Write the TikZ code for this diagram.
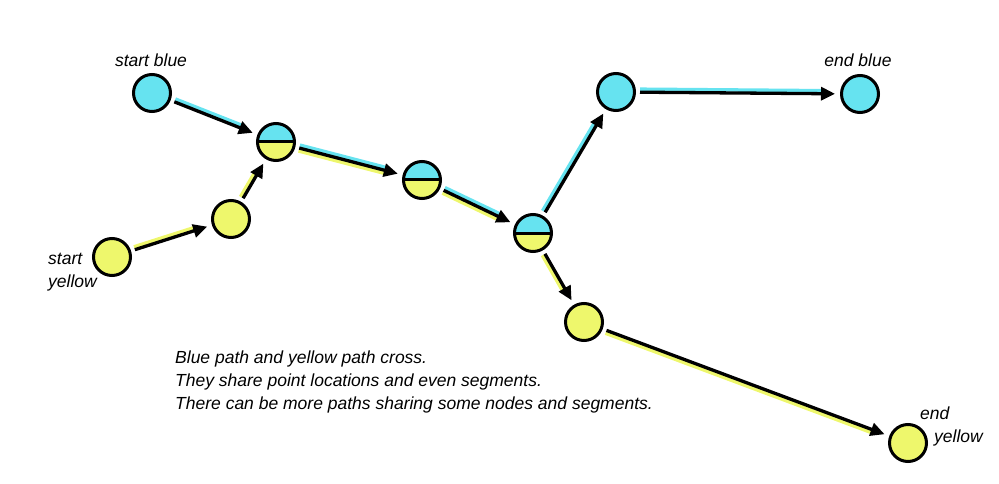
\documentclass[tikz,border=0pt]{standalone}
\usepackage{fontspec}
\setmainfont{Liberation Sans}
\usetikzlibrary{calc,arrows.meta}
\definecolor{cblue}{RGB}{102,227,240}
\definecolor{cyellow}{RGB}{238,247,108}
\newcommand\colline[5]{%
  \draw[colorline,draw=#5] ($(#1.center)!3pt!#3:(#2.center)$) -- ($(#2.center)!3pt!#4:(#1.center)$);}
\begin{document}
\begin{tikzpicture}[x=1pt,y=-1pt,
  dot/.style={circle,draw=black,line width=3pt,minimum size=37pt,inner sep=0pt},
  bdot/.style={dot,fill=cblue},
  ydot/.style={dot,fill=cyellow},
  half/.style={dot,path picture={
     \fill[cblue] (path picture bounding box.north west) rectangle (path picture bounding box.east);
     \fill[cyellow] (path picture bounding box.west) rectangle (path picture bounding box.south east);
     \draw[line width=3pt] (path picture bounding box.west) -- (path picture bounding box.east);}},
  arr/.style={line width=3.3pt,-{Triangle[length=14pt,width=13pt]},shorten <=4pt,shorten >=5pt},
  colorline/.style={line width=3.5pt,shorten <=24pt,shorten >=36pt},
  lbl/.style={font=\fontsize{17.5}{23}\selectfont\itshape,inner sep=0pt,align=left}]
\useasboundingbox (0,0) rectangle (999,484);
% nodes
\node[bdot] (sb) at (152,93) {};
\node[half] (s1) at (276,142) {};
\node[ydot] (sy) at (112,257) {};
\node[ydot] (y2) at (231,219) {};
\node[half] (s2) at (422,180) {};
\node[half] (s3) at (533,233) {};
\node[bdot] (b3) at (616,92) {};
\node[bdot] (eb) at (860,94) {};
\node[ydot] (y3) at (584,322) {};
\node[ydot] (ey) at (908,443) {};
% coloured companion lines
\colline{sb}{s1}{90}{-90}{cblue}
\colline{sy}{y2}{90}{-90}{cyellow}
\colline{y2}{s1}{90}{-90}{cyellow}
\colline{s1}{s2}{90}{-90}{cblue}
\colline{s1}{s2}{-90}{90}{cyellow}
\colline{s2}{s3}{90}{-90}{cblue}
\colline{s2}{s3}{-90}{90}{cyellow}
\colline{s3}{b3}{90}{-90}{cblue}
\colline{b3}{eb}{90}{-90}{cblue}
\colline{s3}{y3}{-90}{90}{cyellow}
\colline{y3}{ey}{-90}{90}{cyellow}
% black arrows
\draw[arr] (sb) -- (s1);
\draw[arr] (sy) -- (y2);
\draw[arr] (y2) -- (s1);
\draw[arr] (s1) -- (s2);
\draw[arr] (s2) -- (s3);
\draw[arr] (s3) -- (b3);
\draw[arr] (b3) -- (eb);
\draw[arr] (s3) -- (y3);
\draw[arr] (y3) -- (ey);
% labels
\node[lbl,anchor=base] (lsb) at (151,67) {start blue};
\node[lbl,anchor=base west] (lsy) at (48,287) {start\\yellow};
\node[lbl,anchor=base] (leb) at (858,67) {end blue};
\node[lbl,anchor=base west] (ley) at (920,442) {end\\\hspace*{14pt}yellow};
\node[lbl,anchor=base west] (txt) at (175,409) {Blue path and yellow path cross.\\They share point locations and even segments.\\There can be more paths sharing some nodes and segments.};
\end{tikzpicture}
\end{document}
